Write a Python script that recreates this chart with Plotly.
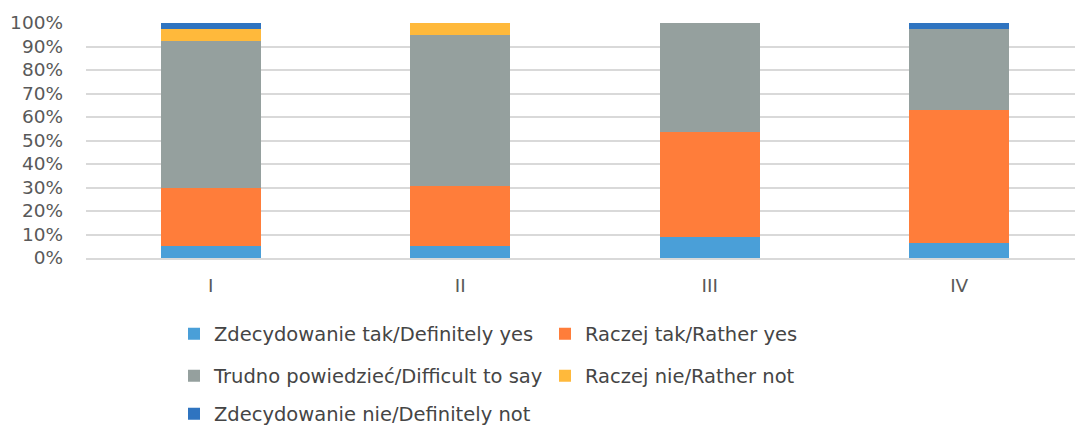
import plotly.graph_objects as go

# Survey groups on the x axis
categories = ["I", "II", "III", "IV"]

# Share of answers (%) per group, stacked bottom to top
definitely_yes = [5.2, 5.2, 8.9, 6.2]
rather_yes = [24.6, 25.6, 44.8, 56.8]
difficult_to_say = [62.7, 64.3, 46.3, 34.3]
rather_not = [4.8, 4.9, 0.0, 0.0]
definitely_not = [2.7, 0.0, 0.0, 2.7]

series_names = [
    "Zdecydowanie tak/Definitely yes",
    "Raczej tak/Rather yes",
    "Trudno powiedzieć/Difficult to say",
    "Raczej nie/Rather not",
    "Zdecydowanie nie/Definitely not",
]
series_values = [definitely_yes, rather_yes, difficult_to_say, rather_not, definitely_not]
series_colors = ["#4A9FD8", "#FF7D3A", "#95A09E", "#FFB93B", "#2F74C0"]
# which legend row each series sits in
series_legend = ["legend", "legend", "legend2", "legend2", "legend3"]

FONT = "DejaVu Sans"
TICK_COLOR = "#595959"
LEGEND_COLOR = "#454545"
GRID_COLOR = "#D9D9D9"

fig = go.Figure()
for name, vals, color, lg in zip(series_names, series_values, series_colors, series_legend):
    fig.add_trace(go.Bar(
        x=categories,
        y=vals,
        name=name,
        marker=dict(color=color, line=dict(width=0)),
        width=0.4,
        legend=lg,
    ))


def legend_row(y_px, entrywidth=None):
    row = dict(
        orientation="h",
        xref="container",
        yref="container",
        x=174 / 1075,
        y=1 - y_px / 425,
        xanchor="left",
        yanchor="middle",
        font=dict(family=FONT, size=19.5, color=LEGEND_COLOR),
        bgcolor="rgba(0,0,0,0)",
        traceorder="normal",
    )
    if entrywidth is not None:
        row["entrywidth"] = entrywidth
    return row


fig.update_layout(
    width=1075,
    height=425,
    barmode="stack",
    plot_bgcolor="white",
    paper_bgcolor="white",
    margin=dict(l=86, r=0, t=23, b=167),
    font=dict(family=FONT, size=18.5, color=TICK_COLOR),
    xaxis=dict(
        range=[-0.5, 3.464],
        showgrid=False,
        showline=True,
        linecolor=GRID_COLOR,
        linewidth=1.5,
        ticks="",
        ticklabelstandoff=10,
        tickfont=dict(family=FONT, size=18.5, color=TICK_COLOR),
    ),
    yaxis=dict(
        range=[0, 100],
        dtick=10,
        ticksuffix="%",
        showgrid=True,
        gridcolor=GRID_COLOR,
        gridwidth=1.5,
        zeroline=False,
        ticks="",
        ticklabelstandoff=22,
        tickfont=dict(family=FONT, size=18.5, color=TICK_COLOR),
    ),
    legend=legend_row(334, entrywidth=326),
    legend2=legend_row(376, entrywidth=326),
    legend3=legend_row(414),
    showlegend=True,
)

fig.write_html("out.html")
